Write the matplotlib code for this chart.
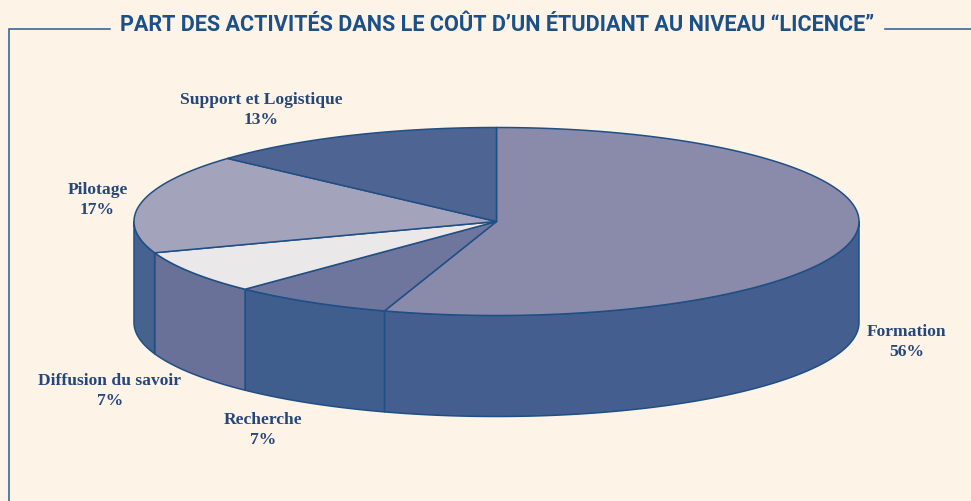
"""3D-looking pie of activity shares in the cost of one student, drawn with plain polygons."""

import matplotlib
matplotlib.use("Agg")
import matplotlib.pyplot as plt
import numpy as np


TITLE = "PART DES ACTIVITÉS DANS LE COÛT D’UN ÉTUDIANT AU NIVEAU “LICENCE”"
categories = ["Formation", "Recherche", "Diffusion du savoir", "Pilotage", "Support et Logistique"]
printed_pct = [56, 7, 7, 17, 13]
# slice sizes as measured on the drawn ellipse (a bit off the printed figures)
drawn_pct = [55.0, 7.2, 7.4, 17.1, 13.3]

top_colors = ["#8a8aab", "#6f769d", "#eae8e8", "#a3a4bb", "#4e6493"]
side_colors = ["#445f8f", "#3f5e8e", "#6a7199", "#46628f", "#46628f"]
label_pos = [(907, 342), (263, 430), (110, 391), (97.5, 200), (261, 110)]

BG = "#fdf3e7"
LINE = "#1f4f85"
TEXT = "#25477a"
CX, CY, RX, RY, DEPTH = 496.5, 222.5, 362.5, 94, 101


def rim(t_deg):
	# t runs clockwise from the back of the ellipse
	t = np.radians(t_deg)
	return CX + RX * np.sin(t), CY - RY * np.cos(t)


fig = plt.figure(figsize=(9.71, 5.02), dpi=100, facecolor=BG)
ax = fig.add_axes([0, 0, 1, 1])
ax.set_xlim(0, 971)
ax.set_ylim(502, 0)
ax.axis("off")

edges = np.cumsum([0] + drawn_pct) * 3.6

# side band, only the front half of the rim shows
for i in range(len(categories)):
	a, b = max(edges[i], 90), min(edges[i + 1], 270)
	if b <= a:
		continue
	ts = np.linspace(a, b, 120)
	x, y = rim(ts)
	ax.fill(np.r_[x, x[::-1]], np.r_[y, y[::-1] + DEPTH],
		facecolor=side_colors[i], edgecolor=LINE, linewidth=1.1, joinstyle="round")

# top face
for i in range(len(categories)):
	ts = np.linspace(edges[i], edges[i + 1], 200)
	x, y = rim(ts)
	ax.fill(np.r_[CX, x], np.r_[CY, y],
		facecolor=top_colors[i], edgecolor=LINE, linewidth=1.1, joinstyle="round")

for name, pct, (lx, ly) in zip(categories, printed_pct, label_pos):
	ax.text(lx, ly, f"{name}\n{pct}%", ha="center", va="center", color=TEXT,
		family="Liberation Serif", weight="bold", fontsize=12.6, linespacing=1.3)

ax.text(497.5, 25, TITLE, ha="center", va="center", color="#1c5088",
	family="Roboto", weight="bold", fontsize=15.6)

# frame broken by the title
ax.plot([110, 9, 9], [29.5, 29.5, 502], color="#2a5a90", linewidth=1.1, solid_joinstyle="miter")
ax.plot([885, 971], [29.5, 29.5], color="#2a5a90", linewidth=1.1)

fig.savefig("out.png", dpi=100, facecolor=BG)
